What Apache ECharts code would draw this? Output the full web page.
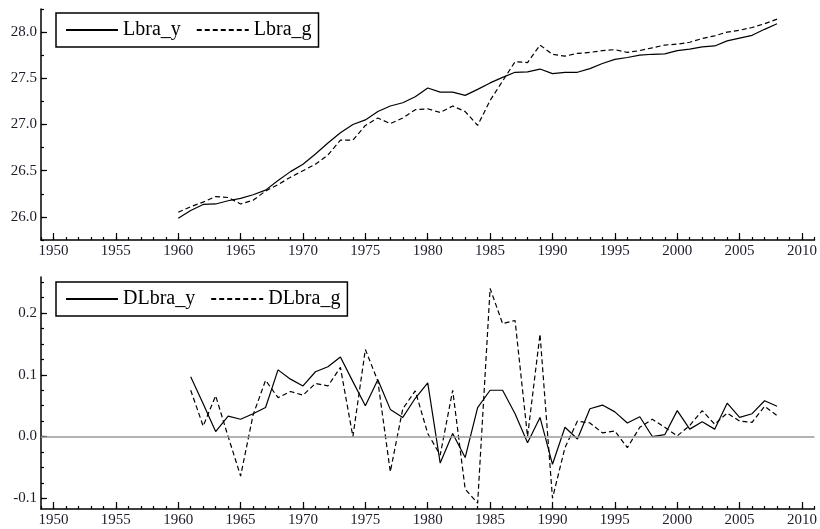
<!DOCTYPE html>
<html><head><meta charset="utf-8">
<script src="https://cdn.jsdelivr.net/npm/echarts@6/dist/echarts.min.js"></script>
<style>html,body{margin:0;padding:0;background:#fff}#c{width:820px;height:529px}</style>
</head><body><div id="c"></div>
<script>
// ---- data ----
const years = [1960,1961,1962,1963,1964,1965,1966,1967,1968,1969,1970,1971,1972,1973,1974,1975,1976,1977,1978,1979,1980,1981,1982,1983,1984,1985,1986,1987,1988,1989,1990,1991,1992,1993,1994,1995,1996,1997,1998,1999,2000,2001,2002,2003,2004,2005,2006,2007,2008];
const dyears = years.slice(1);
const Lbra_y = [25.985,26.07,26.135,26.14,26.175,26.20,26.24,26.29,26.395,26.49,26.57,26.68,26.80,26.91,27.00,27.05,27.14,27.20,27.235,27.30,27.395,27.35,27.35,27.315,27.38,27.45,27.51,27.565,27.57,27.60,27.55,27.565,27.565,27.605,27.66,27.705,27.725,27.75,27.76,27.765,27.80,27.815,27.84,27.85,27.905,27.935,27.965,28.03,28.09];
const Lbra_g = [26.05,26.11,26.16,26.22,26.21,26.14,26.18,26.28,26.35,26.43,26.50,26.57,26.67,26.83,26.83,26.99,27.07,27.01,27.07,27.16,27.17,27.13,27.20,27.14,26.99,27.26,27.47,27.68,27.67,27.86,27.76,27.74,27.77,27.78,27.80,27.81,27.78,27.80,27.83,27.86,27.87,27.89,27.93,27.96,28.00,28.02,28.05,28.09,28.14];
const DLbra_y = [0.097,0.053,0.008,0.033,0.028,0.037,0.047,0.108,0.093,0.082,0.105,0.113,0.129,0.089,0.050,0.092,0.044,0.031,0.062,0.087,-0.043,0.005,-0.034,0.047,0.075,0.075,0.037,-0.010,0.031,-0.045,0.015,-0.004,0.045,0.051,0.040,0.022,0.032,0.000,0.003,0.042,0.012,0.024,0.012,0.054,0.031,0.037,0.058,0.049];
const DLbra_g = [0.075,0.017,0.066,0.000,-0.064,0.035,0.091,0.063,0.073,0.067,0.086,0.082,0.112,0.000,0.141,0.090,-0.057,0.045,0.074,0.005,-0.030,0.075,-0.085,-0.108,0.240,0.183,0.188,0.000,0.166,-0.100,-0.018,0.025,0.022,0.006,0.009,-0.018,0.015,0.028,0.015,0.001,0.018,0.042,0.020,0.038,0.025,0.023,0.049,0.034];
const xTickLabels = [1950,1955,1960,1965,1970,1975,1980,1985,1990,1995,2000,2005,2010];
const yTopLabels = [26.0,26.5,27.0,27.5,28.0];
const yTopMinor = [25.75,26,26.25,26.5,26.75,27,27.25,27.5,27.75,28,28.25];
const yBotLabels = [-0.1,0.0,0.1,0.2];
const yBotMinor = [-0.1,-0.075,-0.05,-0.025,0,0.025,0.05,0.075,0.1,0.125,0.15,0.175,0.2,0.225,0.25];

const FONT = '"Liberation Serif","Times New Roman",serif';
const AXLINE = {color:'#000',width:1.5};
const lblStyle = {color:'#1c1c2a',fontFamily:FONT,fontSize:15};

function xAxes(grid){
  return [
    {type:'value',gridIndex:grid,position:'bottom',offset:0,min:1949,max:2011,interval:1,
     axisLine:{show:true,onZero:false,lineStyle:AXLINE},axisTick:{show:true,inside:true,length:3,lineStyle:{color:'#000',width:1.2}},
     axisLabel:{show:false},splitLine:{show:false}},
    {type:'value',gridIndex:grid,position:'bottom',offset:0,min:1949,max:2011,
     axisLine:{show:false,onZero:false},axisTick:{show:true,inside:true,length:7,customValues:xTickLabels,lineStyle:{color:'#000',width:1.2}},
     axisLabel:Object.assign({show:true,margin:4,customValues:xTickLabels,formatter:v=>String(v)},lblStyle),splitLine:{show:false}}
  ];
}
function yAxes(grid,min,max,minor,major){
  return [
    {type:'value',gridIndex:grid,position:'left',offset:0,min:min,max:max,
     axisLine:{show:true,onZero:false,lineStyle:AXLINE},axisTick:{show:true,inside:true,length:3,customValues:minor,lineStyle:{color:'#000',width:1.2}},
     axisLabel:{show:false},splitLine:{show:false}},
    {type:'value',gridIndex:grid,position:'left',offset:0,min:min,max:max,
     axisLine:{show:false,onZero:false},axisTick:{show:true,inside:true,length:6,customValues:major,lineStyle:{color:'#000',width:1.2}},
     axisLabel:Object.assign({show:true,margin:4,customValues:major,formatter:v=>Number(v).toFixed(1)},lblStyle),splitLine:{show:false}}
  ];
}

const solid = {color:'#000',width:1.2,type:'solid'};
const dashed = {color:'#000',width:1.2,type:[5,3]};
function pairs(xs,vs){return xs.map((x,i)=>[x,vs[i]]);}

const legendBase = {orient:'horizontal',itemWidth:52,itemHeight:14,itemGap:15,
  borderColor:'#000',borderWidth:1.5,padding:[7,7,7,9],backgroundColor:'#fff',
  itemStyle:{opacity:0,color:'rgba(0,0,0,0)',borderWidth:0},
  textStyle:{color:'#000',fontFamily:FONT,fontSize:20},selectedMode:false};

const chart = echarts.init(document.getElementById('c'),null,{renderer:'canvas'});
chart.setOption({
  animation:false,
  backgroundColor:'#fff',
  grid:[{left:41,right:0,top:9,height:231},{left:41,right:0,top:277,height:232}],
  xAxis:[...xAxes(0),...xAxes(1)],
  yAxis:[...yAxes(0,25.75,28.25,yTopMinor,yTopLabels),...yAxes(1,-0.1174,0.2585,yBotMinor,yBotLabels)],
  legend:[
    Object.assign({},legendBase,{left:56,top:13,data:['Lbra_y','Lbra_g']}),
    Object.assign({},legendBase,{left:56,top:282,data:['DLbra_y','DLbra_g']})
  ],
  series:[
    {name:'zero',type:'line',xAxisIndex:2,yAxisIndex:2,data:[],z:1,silent:true,
     markLine:{silent:true,symbol:['none','none'],label:{show:false},lineStyle:{color:'#999',type:'solid',width:1.5},data:[{yAxis:0}]}},
    {name:'Lbra_y',type:'line',xAxisIndex:0,yAxisIndex:0,data:pairs(years,Lbra_y),symbol:'none',lineStyle:solid,itemStyle:{color:'#000'},z:3},
    {name:'Lbra_g',type:'line',xAxisIndex:0,yAxisIndex:0,data:pairs(years,Lbra_g),symbol:'none',lineStyle:dashed,itemStyle:{color:'#000'},z:3},
    {name:'DLbra_y',type:'line',xAxisIndex:2,yAxisIndex:2,data:pairs(dyears,DLbra_y),symbol:'none',lineStyle:solid,itemStyle:{color:'#000'},z:3},
    {name:'DLbra_g',type:'line',xAxisIndex:2,yAxisIndex:2,data:pairs(dyears,DLbra_g),symbol:'none',lineStyle:dashed,itemStyle:{color:'#000'},z:3}
  ]
});
</script></body></html>
